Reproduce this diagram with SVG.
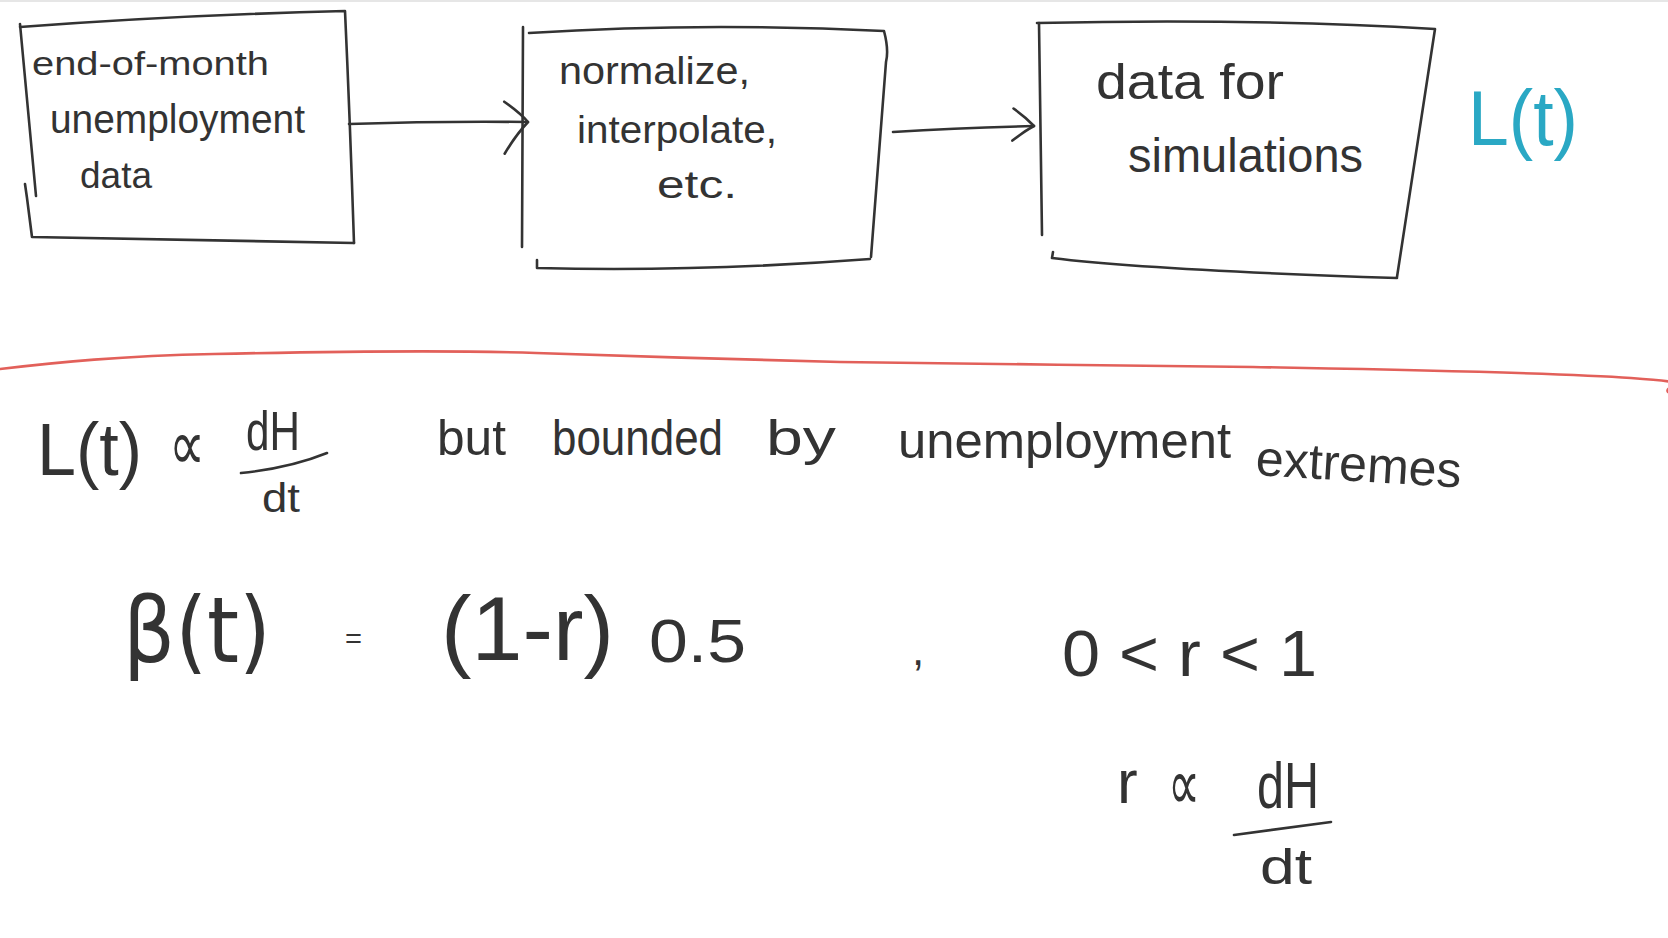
<svg xmlns="http://www.w3.org/2000/svg" width="1668" height="938" viewBox="0 0 1668 938">
<style>
  .ink { fill: none; stroke: #333; stroke-width: 2.6; stroke-linecap: round; stroke-linejoin: round; }
  .red { fill: none; stroke: #e2605a; stroke-width: 2.6; stroke-linecap: round; }
  .hw { font-family: "Liberation Sans", "DejaVu Sans", sans-serif; fill: #333; }
  .sym { font-family: "DejaVu Sans", "Liberation Sans", sans-serif; fill: #333; }
  .cyan { font-family: "Liberation Sans", "DejaVu Sans", sans-serif; fill: #2aa8c4; }
</style>
<defs>
  <marker id="ahL" markerUnits="userSpaceOnUse" markerWidth="40" markerHeight="70" viewBox="0 0 40 70" refX="30" refY="35" orient="auto" overflow="visible">
    <path class="ink" d="M 6 15 Q 22 26 30 35 Q 18 48 7 67"/>
  </marker>
  <marker id="ahS" markerUnits="userSpaceOnUse" markerWidth="40" markerHeight="50" viewBox="0 0 40 50" refX="30" refY="25" orient="auto" overflow="visible">
    <path class="ink" d="M 10 7 Q 22 16 30 25 Q 20 30 8 39"/>
  </marker>
</defs>
<rect x="0" y="0" width="1668" height="938" fill="#ffffff"/>
<rect x="0" y="0" width="1668" height="2" fill="#e6e6e6"/>

<g id="box1">
  <path class="ink" d="M 20 27 Q 180 15 345 11 Q 350 120 354 243"/>
  <path class="ink" d="M 20 24 L 36 196"/>
  <path class="ink" d="M 25 184 L 27 198 L 32 237 Q 190 240 354 243"/>
  <text class="hw" x="32" y="75" font-size="34" textLength="237" lengthAdjust="spacingAndGlyphs">end-of-month</text>
  <text class="hw" x="50" y="133" font-size="40" textLength="255" lengthAdjust="spacingAndGlyphs">unemployment</text>
  <text class="hw" x="80" y="188" font-size="36" textLength="72" lengthAdjust="spacingAndGlyphs">data</text>
</g>

<g id="box2">
  <path class="ink" d="M 523 27 L 522 247"/>
  <path class="ink" d="M 529 33 Q 700 22 884 31 Q 889 50 886 62 L 871 257"/>
  <path class="ink" d="M 537 260 L 537 268 Q 700 272 870 259"/>
  <text class="hw" x="559" y="84" font-size="38" textLength="191" lengthAdjust="spacingAndGlyphs">normalize,</text>
  <text class="hw" x="577" y="143" font-size="38" textLength="200" lengthAdjust="spacingAndGlyphs">interpolate,</text>
  <text class="hw" x="657" y="198" font-size="38" textLength="80" lengthAdjust="spacingAndGlyphs">etc.</text>
</g>

<g id="box3">
  <path class="ink" d="M 1039 23 L 1042 235"/>
  <path class="ink" d="M 1037 23 Q 1250 18 1435 29 L 1397 277"/>
  <path class="ink" d="M 1053 252 L 1052 258 Q 1150 270 1397 278"/>
  <text class="hw" x="1096" y="99" font-size="50" textLength="188" lengthAdjust="spacingAndGlyphs">data for</text>
  <text class="hw" x="1128" y="172" font-size="48" textLength="235" lengthAdjust="spacingAndGlyphs">simulations</text>
</g>

<g id="label-Lt">
  <text class="cyan" x="1468" y="145" font-size="78" textLength="110" lengthAdjust="spacingAndGlyphs">L(t)</text>
</g>

<g id="connectors">
  <path class="ink" d="M 349 124 Q 440 121 528 122" marker-end="url(#ahL)"/>
  <path class="ink" d="M 893 132 Q 960 128 1034 126" marker-end="url(#ahS)"/>
</g>

<g id="divider">
  <path class="red" d="M 0 369 C 60 362, 120 356, 214 354 S 450 350, 536 353 S 760 360, 840 362 S 1150 365, 1253 367 S 1550 372, 1631 378 S 1662 384, 1668 392"/>
</g>

<g id="eq-L">
  <text class="hw" x="37" y="475" font-size="74" textLength="105" lengthAdjust="spacingAndGlyphs">L(t)</text>
  <text class="sym" x="169" y="470" font-size="72" textLength="36" lengthAdjust="spacingAndGlyphs">∝</text>
  <text class="hw" x="246" y="450" font-size="56" textLength="54" lengthAdjust="spacingAndGlyphs">dH</text>
  <path class="ink" d="M 241 473 Q 290 468 327 453"/>
  <text class="hw" x="262" y="512" font-size="40" textLength="38" lengthAdjust="spacingAndGlyphs">dt</text>
  <text class="hw" x="437" y="455" font-size="50" textLength="69" lengthAdjust="spacingAndGlyphs">but</text>
  <text class="hw" x="552" y="455" font-size="50" textLength="171" lengthAdjust="spacingAndGlyphs">bounded</text>
  <text class="hw" x="766" y="455" font-size="50" textLength="70" lengthAdjust="spacingAndGlyphs">by</text>
  <text class="hw" x="898" y="458" font-size="50" textLength="333" lengthAdjust="spacingAndGlyphs">unemployment</text>
  <text class="hw" x="1255" y="475" font-size="50" textLength="206" lengthAdjust="spacingAndGlyphs" transform="rotate(3.5 1255 475)">extremes</text>
</g>

<g id="eq-beta">
  <text class="sym" x="123" y="662" font-size="90" textLength="148" lengthAdjust="spacingAndGlyphs">β(t)</text>
  <text class="hw" x="345" y="648" font-size="28" textLength="17" lengthAdjust="spacingAndGlyphs">=</text>
  <text class="hw" x="441" y="660" font-size="90" textLength="173" lengthAdjust="spacingAndGlyphs">(1-r)</text>
  <text class="hw" x="649" y="662" font-size="62" textLength="97" lengthAdjust="spacingAndGlyphs">0.5</text>
  <text class="hw" x="912" y="665" font-size="44">,</text>
  <text class="hw" x="1062" y="676" font-size="64" textLength="255" lengthAdjust="spacingAndGlyphs">0 &lt; r &lt; 1</text>
</g>

<g id="eq-r">
  <text class="hw" x="1117" y="803" font-size="62">r</text>
  <text class="sym" x="1168" y="810" font-size="74" textLength="32" lengthAdjust="spacingAndGlyphs">∝</text>
  <text class="hw" x="1257" y="808" font-size="64" textLength="62" lengthAdjust="spacingAndGlyphs">dH</text>
  <path class="ink" d="M 1234 835 L 1331 822"/>
  <text class="hw" x="1260" y="884" font-size="50" textLength="52" lengthAdjust="spacingAndGlyphs">dt</text>
</g>
</svg>
